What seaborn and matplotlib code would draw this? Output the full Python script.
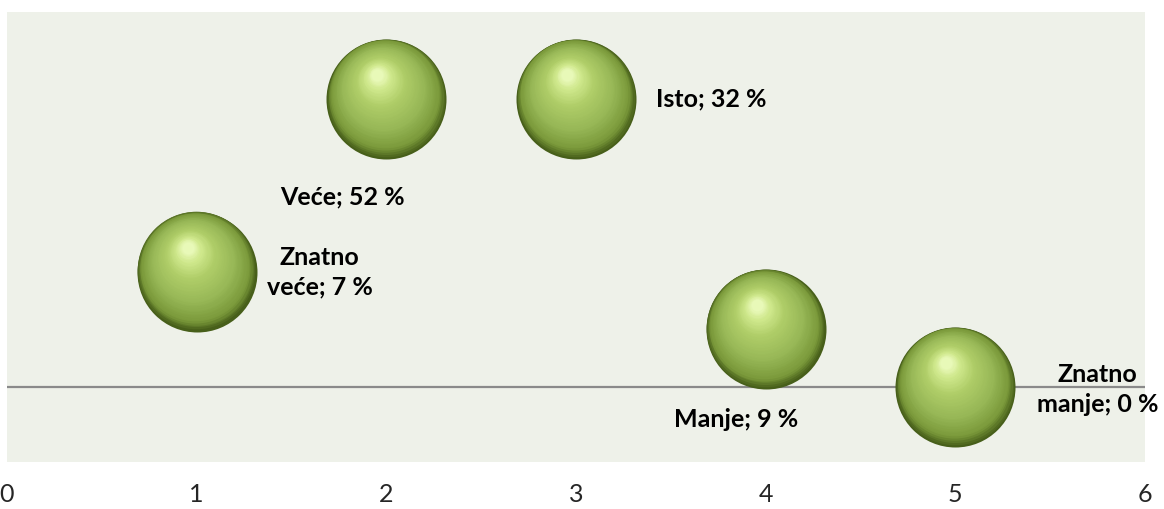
import numpy as np
import matplotlib
matplotlib.use("Agg")
import matplotlib.pyplot as plt
import matplotlib.transforms as mtransforms
from matplotlib.colors import LinearSegmentedColormap
import seaborn as sns
import pandas as pd

# ============================
# Data
# ============================
x_vals = [1, 2, 3, 4, 5]
y_vals = [2, 5, 5, 1, 0]
point_labels = ["Znatno\nveće; 7 %", "Veće; 52 %", "Isto; 32 %",
                "Manje; 9 %", "Znatno\nmanje; 0 %"]
x_ticks = [0, 1, 2, 3, 4, 5, 6]

df = pd.DataFrame({"x": x_vals, "y": y_vals, "label": point_labels})

# label offsets from bubble centre (pixels, +down)
label_offsets = [(123, 1), (-44, 98), (135, 0), (-30, 90), (142, 3)]

# ============================
# Figure
# ============================
sns.set_theme(style="white")
plt.rcParams["font.family"] = ["Lato", "DejaVu Sans"]

fig = plt.figure(figsize=(11.64, 5.09), dpi=100)
ax = fig.add_axes([7 / 1164, 1 - 462 / 509, (1145 - 7) / 1164, 450 / 509])
ax.set_facecolor("#eef1e9")

ax.axhline(0, color="#8a8a8a", lw=1.6, zorder=1)

# sphere look: stacked circles shrinking towards a highlight
sphere_cmap = LinearSegmentedColormap.from_list(
    "sphere",
    [(0.0, "#475f1a"), (0.10, "#7a993a"), (0.35, "#98b857"),
     (0.65, "#afcd68"), (0.87, "#cfe88c"), (1.0, "#e8f9b8")])
radius_px = 60
hl_dx, hl_dy = -9, -24  # highlight offset in px (+down)
n_layers = 45
for k in range(n_layers):
    t = k / (n_layers - 1)
    r = radius_px * (1 - 0.9 * t)
    dx = hl_dx * t ** 0.8
    dy = hl_dy * t ** 0.8
    tr = mtransforms.offset_copy(ax.transData, fig=fig,
                                 x=dx, y=-dy, units="dots")
    sns.scatterplot(data=df, x="x", y="y", ax=ax,
                    s=(2 * r * 0.72) ** 2, color=sphere_cmap(t),
                    linewidth=0, legend=False, transform=tr,
                    zorder=3 + k * 0.01)

for (xv, yv, lab), (ox, oy) in zip(zip(x_vals, y_vals, point_labels), label_offsets):
    ax.annotate(lab, (xv, yv), xytext=(ox * 0.72, -oy * 0.72),
                textcoords="offset points", ha="center", va="center",
                fontsize=18, fontweight="bold", color="black",
                linespacing=1.35, annotation_clip=False, zorder=10)

ax.set_xlim(0, 6)
ax.set_ylim(-(462 - 386.7) / 57.6, (386.7 - 12) / 57.6)
ax.set_xticks(x_ticks)
ax.set_xticklabels([str(v) for v in x_ticks], fontsize=18)
ax.set_yticks([])
ax.tick_params(axis="x", length=0, pad=15)
ax.set_xlabel("")
ax.set_ylabel("")
for sp in ax.spines.values():
    sp.set_visible(False)

fig.savefig("out.png", dpi=100)
